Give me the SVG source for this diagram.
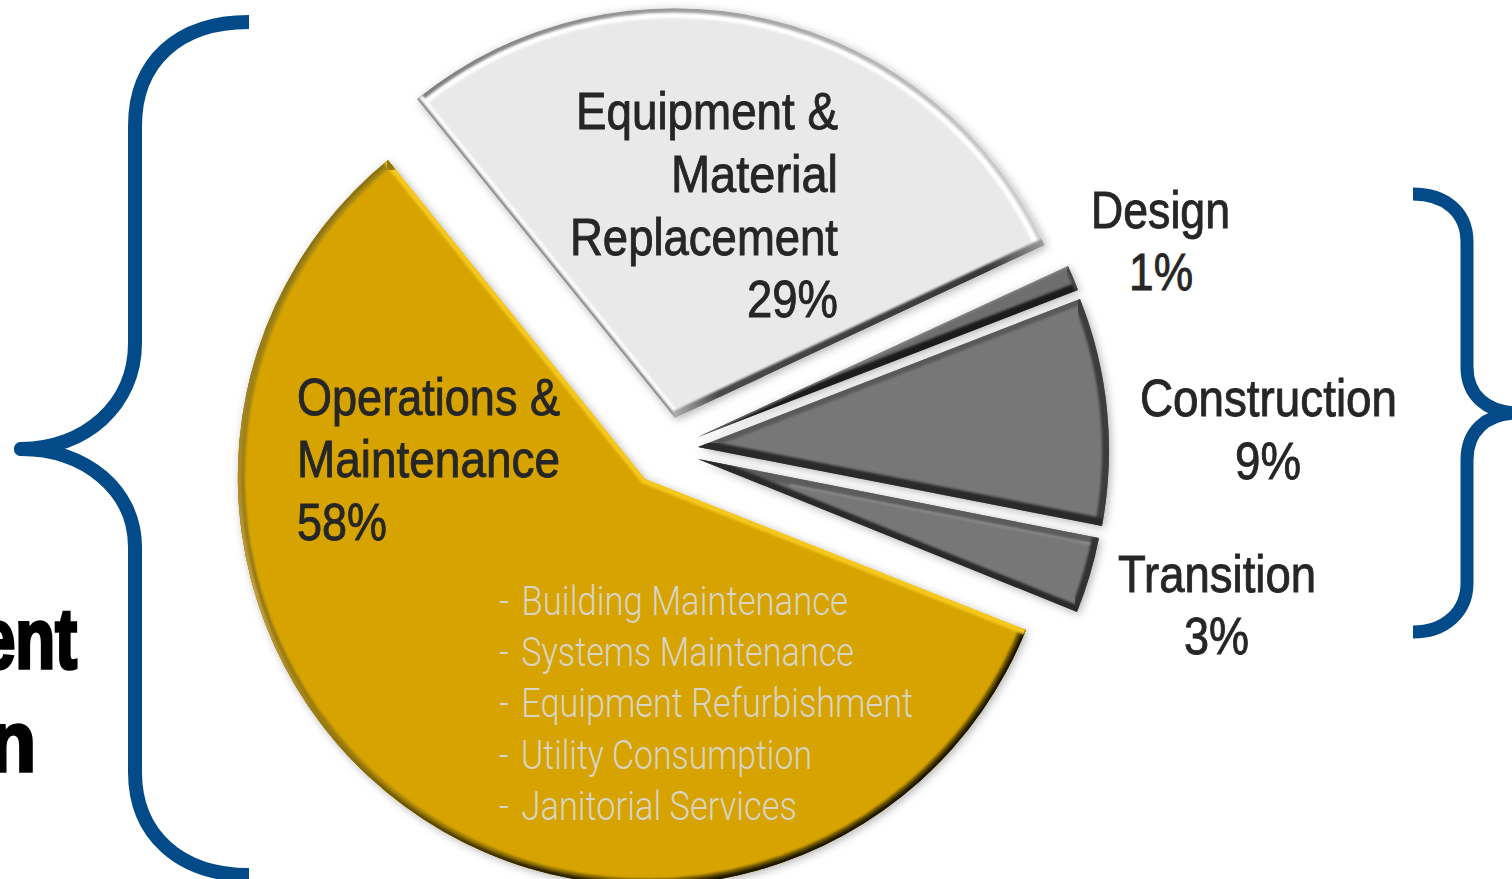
<svg xmlns="http://www.w3.org/2000/svg" width="1512" height="879" viewBox="0 0 1512 879">
<style>
.lbl{font-family:"Liberation Sans",Arial,sans-serif;font-size:52px;fill:#262626;stroke:#262626;stroke-width:0.9px}
.sub{font-family:Roboto,"Liberation Sans",sans-serif;font-weight:300;font-size:41px;fill:#d8d4c6}
.big{font-family:"Liberation Sans",Arial,sans-serif;font-weight:700;font-size:86px;fill:#000;stroke:#000;stroke-width:3.5px}
.brace{fill:none;stroke:#034a88;stroke-linecap:butt;stroke-linejoin:round}
.e{fill:none;filter:url(#soft)}
</style>
<defs>
<filter id="soft" x="-5%" y="-5%" width="110%" height="110%"><feGaussianBlur stdDeviation="0.9"/></filter>
<filter id="shadow" x="-10%" y="-10%" width="120%" height="120%"><feDropShadow dx="2" dy="2" stdDeviation="4" flood-color="#000" flood-opacity="0.3"/></filter>
<path id="pG" d="M388 160A409 409 0 1 0 1026 630L645 479Z"/>
<path id="pE" d="M417 99A409 409 0 0 1 1045 245L675 418Z"/>
<path id="pD" d="M698 437L1068 266A407 407 0 0 1 1078 290Z"/>
<path id="pC" d="M698 447L1080 299A409 409 0 0 1 1102 526Z"/>
<path id="pT" d="M698 459L1099 538A409 409 0 0 1 1077 612Z"/>
<clipPath id="cG"><use href="#pG"/></clipPath>
<clipPath id="cE"><use href="#pE"/></clipPath>
<clipPath id="cD"><use href="#pD"/></clipPath>
<clipPath id="cC"><use href="#pC"/></clipPath>
<clipPath id="cT"><use href="#pT"/></clipPath>
<linearGradient id="gArc" gradientUnits="userSpaceOnUse" x1="300" y1="250" x2="800" y2="850">
<stop offset="0" stop-color="#8c7212"/><stop offset="0.3" stop-color="#c2a040"/><stop offset="0.55" stop-color="#8a6d08"/><stop offset="0.8" stop-color="#2e2400"/><stop offset="1" stop-color="#1c1600"/>
</linearGradient>
<linearGradient id="gArcIn" gradientUnits="userSpaceOnUse" x1="300" y1="250" x2="800" y2="850">
<stop offset="0" stop-color="#a98a14"/><stop offset="0.3" stop-color="#8f7414"/><stop offset="0.6" stop-color="#a88508"/><stop offset="1" stop-color="#6a5400"/>
</linearGradient>
<linearGradient id="eArc" gradientUnits="userSpaceOnUse" x1="417" y1="99" x2="1045" y2="245">
<stop offset="0" stop-color="#7e7e7e"/><stop offset="0.45" stop-color="#a4a4a4"/><stop offset="1" stop-color="#d0d0d0"/>
</linearGradient>
<linearGradient id="eLow" gradientUnits="userSpaceOnUse" x1="675" y1="418" x2="1045" y2="245">
<stop offset="0" stop-color="#b0b0b0"/><stop offset="0.12" stop-color="#4a4a4a"/><stop offset="0.85" stop-color="#383838"/><stop offset="1" stop-color="#9a9a9a"/>
</linearGradient>
</defs>

<g id="brace-left"><path class="brace" stroke-width="14" d="M249 22C178 22 135 62 135 126V343C135 405 85 449 21 449C85 449 135 490 135 547V772C135 835 180 875 249 875"/><circle cx="21" cy="449" r="7" fill="#034a88"/></g>
<g id="brace-right"><path class="brace" stroke-width="13" d="M1413 194C1445 194 1467 212 1467 242V367C1467 394 1485 413 1520 413C1485 413 1467 432 1467 460V583C1467 612 1445 632 1413 632"/></g>

<g id="left-text"><text class="big" x="-21" y="668" textLength="98" lengthAdjust="spacingAndGlyphs">ent</text><text class="big" x="-11" y="771" textLength="47" lengthAdjust="spacingAndGlyphs">n</text></g>

<g id="slice-operations">
<use href="#pG" fill="#d6a306" filter="url(#shadow)"/>
<g clip-path="url(#cG)">
<path class="e" stroke="url(#gArcIn)" stroke-width="14" d="M388 160A409 409 0 1 0 1026 630"/>
<path class="e" stroke="url(#gArc)" stroke-width="7" d="M388 160A409 409 0 1 0 1026 630"/>
<path class="e" stroke="#f6c81e" stroke-width="10" d="M1026 630L645 479L388 160"/>
<path class="e" stroke="#8f7410" stroke-width="12" d="M388 160L395 169"/>
</g>
<text class="lbl" x="297" y="415" textLength="263" lengthAdjust="spacingAndGlyphs">Operations &amp;</text>
<text class="lbl" x="297" y="477" textLength="263" lengthAdjust="spacingAndGlyphs">Maintenance</text>
<text class="lbl" x="297" y="540" textLength="90" lengthAdjust="spacingAndGlyphs">58%</text>
<text class="sub" x="499" y="615" textLength="349" lengthAdjust="spacingAndGlyphs">- <tspan dx="5">Building Maintenance</tspan></text>
<text class="sub" x="499" y="666" textLength="355" lengthAdjust="spacingAndGlyphs">- <tspan dx="5">Systems Maintenance</tspan></text>
<text class="sub" x="499" y="717" textLength="414" lengthAdjust="spacingAndGlyphs">- <tspan dx="5">Equipment Refurbishment</tspan></text>
<text class="sub" x="499" y="769" textLength="313" lengthAdjust="spacingAndGlyphs">- <tspan dx="5">Utility Consumption</tspan></text>
<text class="sub" x="499" y="820" textLength="298" lengthAdjust="spacingAndGlyphs">- <tspan dx="5">Janitorial Services</tspan></text>
</g>

<g id="slice-equipment">
<use href="#pE" fill="#e9e9e9" filter="url(#shadow)"/>
<g clip-path="url(#cE)">
<path class="e" stroke="#ffffff" stroke-width="20" d="M417 99A409 409 0 0 1 1045 245"/>
<path class="e" stroke="url(#eArc)" stroke-width="9" d="M417 99A409 409 0 0 1 1045 245"/>
<path class="e" stroke="#ffffff" stroke-width="13" d="M417 99L675 418"/>
<path class="e" stroke="#858585" stroke-width="5" d="M417 99L675 418"/>
<path class="e" stroke="url(#eLow)" stroke-width="14" d="M675 418L1045 245"/>
</g>
<text class="lbl" x="576" y="129" textLength="262" lengthAdjust="spacingAndGlyphs">Equipment &amp;</text>
<text class="lbl" x="671" y="192" textLength="167" lengthAdjust="spacingAndGlyphs">Material</text>
<text class="lbl" x="570" y="255" textLength="268" lengthAdjust="spacingAndGlyphs">Replacement</text>
<text class="lbl" x="747" y="317" textLength="91" lengthAdjust="spacingAndGlyphs">29%</text>
</g>

<g id="slice-design">
<use href="#pD" fill="#6e6e6e" filter="url(#shadow)"/>
<g clip-path="url(#cD)">
<path class="e" stroke="#1c1c1c" stroke-width="15" d="M698 437L1078 290"/>
<path class="e" stroke="#454545" stroke-width="7" d="M1068 266A407 407 0 0 1 1078 290"/>
<path class="e" stroke="#8e8e8e" stroke-width="2" d="M698 437L1068 266"/>
</g>
<text class="lbl" x="1091" y="228" textLength="139" lengthAdjust="spacingAndGlyphs">Design</text>
<text class="lbl" x="1129" y="290" textLength="64" lengthAdjust="spacingAndGlyphs">1%</text>
</g>

<g id="slice-construction">
<use href="#pC" fill="#777777" filter="url(#shadow)"/>
<g clip-path="url(#cC)">
<path class="e" stroke="#5a5a5a" stroke-width="11" d="M698 447L1080 299"/>
<path class="e" stroke="#3e3e3e" stroke-width="14" d="M1080 299A409 409 0 0 1 1102 526"/>
<path class="e" stroke="#2c2c2c" stroke-width="16" d="M1102 526L698 447"/>
</g>
<text class="lbl" x="1140" y="416" textLength="257" lengthAdjust="spacingAndGlyphs">Construction</text>
<text class="lbl" x="1235" y="479" textLength="66" lengthAdjust="spacingAndGlyphs">9%</text>
</g>

<g id="slice-transition">
<use href="#pT" fill="#777777" filter="url(#shadow)"/>
<g clip-path="url(#cT)">
<path class="e" stroke="#5c5c5c" stroke-width="16" d="M698 459L1099 538"/>
<path class="e" stroke="#a0a0a0" stroke-width="1.6" d="M790 485L1092 544"/>
<path class="e" stroke="#303030" stroke-width="14" d="M1099 538A409 409 0 0 1 1077 612"/>
<path class="e" stroke="#2a2a2a" stroke-width="13" d="M1077 612L698 459"/>
</g>
<text class="lbl" x="1118" y="592" textLength="198" lengthAdjust="spacingAndGlyphs">Transition</text>
<text class="lbl" x="1184" y="654" textLength="65" lengthAdjust="spacingAndGlyphs">3%</text>
</g>
</svg>
